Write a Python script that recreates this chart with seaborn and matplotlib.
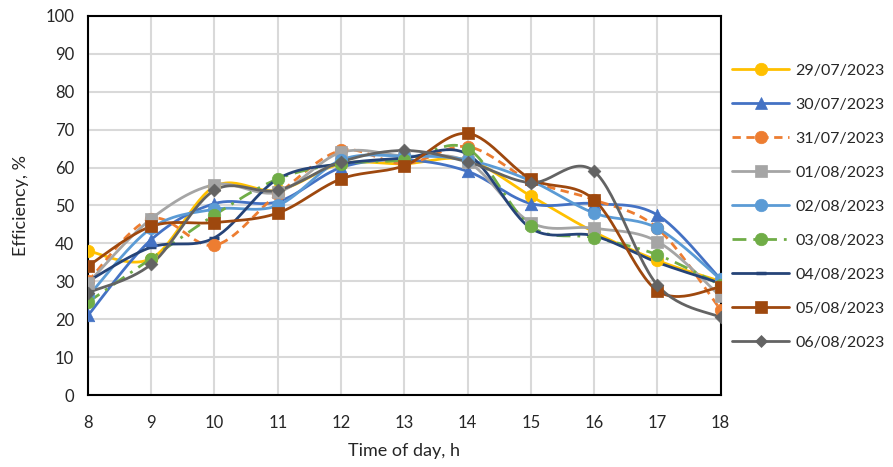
import numpy as np
import pandas as pd
import seaborn as sns
import matplotlib.pyplot as plt
from matplotlib.lines import Line2D

hours = [8, 9, 10, 11, 12, 13, 14, 15, 16, 17, 18]

d2907 = [38, 36, 55, 54, 61, 61, 62, 52.5, 43, 35.5, 30]
d3007 = [21, 41, 50.5, 51, 60, 62, 59, 50.5, 50.5, 47.5, 30.5]
d3107 = [30, 46.5, 39.5, 53, 64.5, 61, 65.5, 56.5, 51.5, 44, 22.5]
d0108 = [29.5, 46.5, 55.5, 53.5, 64, 63, 61.5, 45.5, 44, 40.5, 26]
d0208 = [26, 44, 49, 50, 62, 63, 62, 56.5, 48, 44, 30.5]
d0308 = [24.5, 36, 47.5, 57, 61, 62, 65, 44.5, 41.5, 37, 29]
d0408 = [30, 39, 41.5, 57, 61, 62.5, 63.5, 44, 42, 35, 29.5]
d0508 = [34, 44.5, 45.5, 48, 57, 60.5, 69, 57, 51.5, 27.5, 28.5]
d0608 = [27, 34.5, 54, 54, 61.5, 64.5, 61.5, 56, 59, 29, 20.5]

dates = ["29/07/2023", "30/07/2023", "31/07/2023", "01/08/2023", "02/08/2023",
         "03/08/2023", "04/08/2023", "05/08/2023", "06/08/2023"]
series = [d2907, d3007, d3107, d0108, d0208, d0308, d0408, d0508, d0608]

colors = ["#FFC000", "#4472C4", "#ED7D31", "#A5A5A5", "#5B9BD5",
          "#70AD47", "#264478", "#9E480E", "#636363"]
markers = ["o", "^", "o", "s", "o", "o", "_", "s", "D"]
msizes = [9, 9, 9, 9, 9, 9, 7, 9, 6.5]
dashes = ["-", "-", (0, (3, 2)), "-", "-", (0, (5, 2.5, 1, 2.5)), "-", "-", "-"]


def smooth(x, y, n=30):
    # excel-like smoothed line (catmull-rom bezier)
    x = np.asarray(x, float)
    y = np.asarray(y, float)
    px = np.concatenate([[x[0]], x, [x[-1]]])
    py = np.concatenate([[y[0]], y, [y[-1]]])
    xs, ys = [], []
    t = np.linspace(0, 1, n)
    for i in range(1, len(px) - 2):
        p0 = np.array([px[i], py[i]])
        p3 = np.array([px[i + 1], py[i + 1]])
        c1 = p0 + (np.array([px[i + 1], py[i + 1]]) - np.array([px[i - 1], py[i - 1]])) / 6
        c2 = p3 - (np.array([px[i + 2], py[i + 2]]) - np.array([px[i], py[i]])) / 6
        b = ((1 - t) ** 3)[:, None] * p0 + (3 * (1 - t) ** 2 * t)[:, None] * c1 \
            + (3 * (1 - t) * t ** 2)[:, None] * c2 + (t ** 3)[:, None] * p3
        xs.extend(b[:, 0])
        ys.extend(b[:, 1])
    return xs, ys


sns.set_style("white")
plt.rcParams["font.family"] = ["Lato", "DejaVu Sans"]

fig = plt.figure(figsize=(8.93, 4.67), dpi=100)
ax = fig.add_axes([0.0985, 0.154, 0.7085, 0.812])

handles = []
for lab, vals, c, m, ms, ls in zip(dates, series, colors, markers, msizes, dashes):
    sx, sy = smooth(hours, vals)
    sm = pd.DataFrame({"x": sx, "y": sy})
    sns.lineplot(data=sm, x="x", y="y", ax=ax, color=c, lw=2, sort=False,
                 estimator=None, linestyle=ls)
    pts = pd.DataFrame({"x": hours, "y": vals})
    if m == "_":
        ax.plot(hours, vals, ls="none", marker=m, color=c, ms=ms, mew=2.5)
    else:
        sns.scatterplot(data=pts, x="x", y="y", ax=ax, color=c, marker=m,
                        s=ms ** 2, edgecolor=c, linewidth=0.5, zorder=3)
    handles.append(Line2D([], [], color=c, lw=2, linestyle=ls, marker=m,
                          markersize=ms, markeredgecolor=c,
                          markeredgewidth=2.5 if m == "_" else 0.5))

ax.set_xlim(8, 18)
ax.set_ylim(0, 100)
ax.set_xticks(hours)
ax.set_yticks(range(0, 101, 10))
ax.grid(True, color="#D9D9D9", lw=1.5)
ax.set_axisbelow(True)
for s in ax.spines.values():
    s.set_color("black")
    s.set_linewidth(1.5)
ax.tick_params(axis="both", direction="out", length=5, width=1.2, color="black",
               labelsize=12, pad=5)
ax.tick_params(axis="x", pad=9)
ax.set_xlabel("Time of day, h", fontsize=13, labelpad=9)
ax.set_ylabel("Efficiency, %", fontsize=13, labelpad=12)

fig.legend(handles, dates, loc="upper left", bbox_to_anchor=(0.8197, 0.864),
           frameon=False, fontsize=11.5, handlelength=3.6, labelspacing=1.24,
           handletextpad=0.35, borderpad=0, borderaxespad=0)

fig.savefig("out.png", dpi=100)
